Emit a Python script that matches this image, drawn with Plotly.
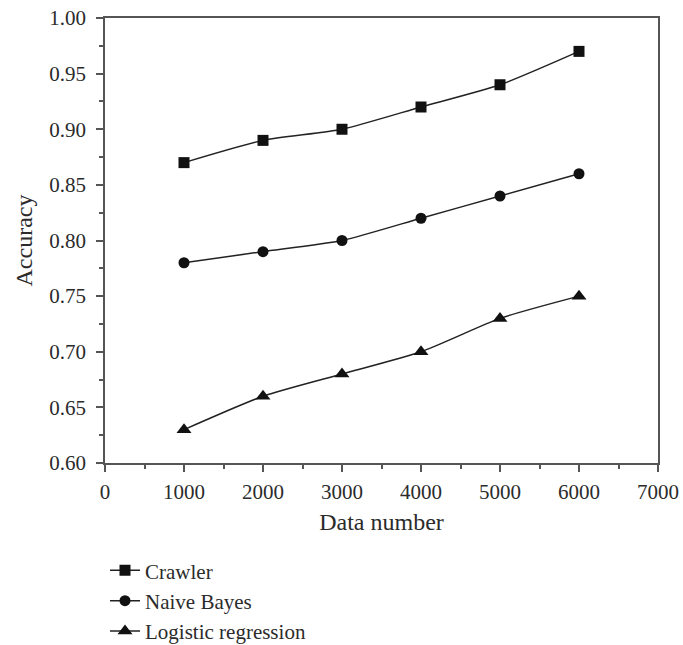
import plotly.graph_objects as go

data_number = [1000, 2000, 3000, 4000, 5000, 6000]
crawler = [0.87, 0.89, 0.90, 0.92, 0.94, 0.97]
naive_bayes = [0.78, 0.79, 0.80, 0.82, 0.84, 0.86]
logistic = [0.63, 0.66, 0.68, 0.70, 0.73, 0.75]

series = [
    ("Crawler", crawler, "square", 11),
    ("Naive Bayes", naive_bayes, "circle", 11),
    ("Logistic regression", logistic, "triangle-up", 13),
]

FONT = "Liberation Serif"
INK = "#2b2b2b"

fig = go.Figure()
for i, (name, vals, sym, msize) in enumerate(series):
    fig.add_trace(go.Scatter(
        x=data_number, y=vals, name=name, mode="lines+markers",
        line=dict(color="#222222", width=1.5, shape="spline", smoothing=0.6),
        marker=dict(symbol=sym, size=msize, color="#111111"),
        legendgroup=f"g{i}",
    ))

axis_common = dict(
    showgrid=False, zeroline=False, showline=True, mirror=True,
    linecolor="#555555", linewidth=1.5,
    ticks="outside", ticklen=7, tickwidth=1.5, tickcolor="#555555",
    tickfont=dict(family=FONT, size=21, color=INK),
    title_font=dict(family=FONT, size=24, color=INK),
    ticklabeloverflow="allow",
)

fig.update_xaxes(
    range=[0, 7000], dtick=1000, tick0=0,
    minor=dict(dtick=500, ticks="outside", ticklen=4, tickwidth=1.5, tickcolor="#555555"),
    title_text="Data number", title_standoff=10, ticklabelstandoff=2,
    **axis_common,
)
fig.update_yaxes(
    range=[0.60, 1.00], dtick=0.05, tick0=0.60, tickformat=".2f",
    minor=dict(dtick=0.025, ticks="outside", ticklen=4, tickwidth=1.5, tickcolor="#555555"),
    title_text="Accuracy", title_standoff=10, ticklabelstandoff=6,
    **axis_common,
)

fig.update_layout(
    width=683, height=645,
    margin=dict(l=105, r=25, t=18, b=182, autoexpand=False),
    plot_bgcolor="white", paper_bgcolor="white",
    font=dict(family=FONT, color=INK),
    legend=dict(
        x=0.0, xref="paper", y=0.147, yref="container", xanchor="left", yanchor="top",
        orientation="v", traceorder="grouped", tracegroupgap=0,
        font=dict(family=FONT, size=21, color=INK),
        bgcolor="rgba(0,0,0,0)",
    ),
)

fig.write_html(
    "out.html",
    config={"displayModeBar": False},
    post_script="document.body.style.margin='0';document.body.style.overflow='hidden';",
)
